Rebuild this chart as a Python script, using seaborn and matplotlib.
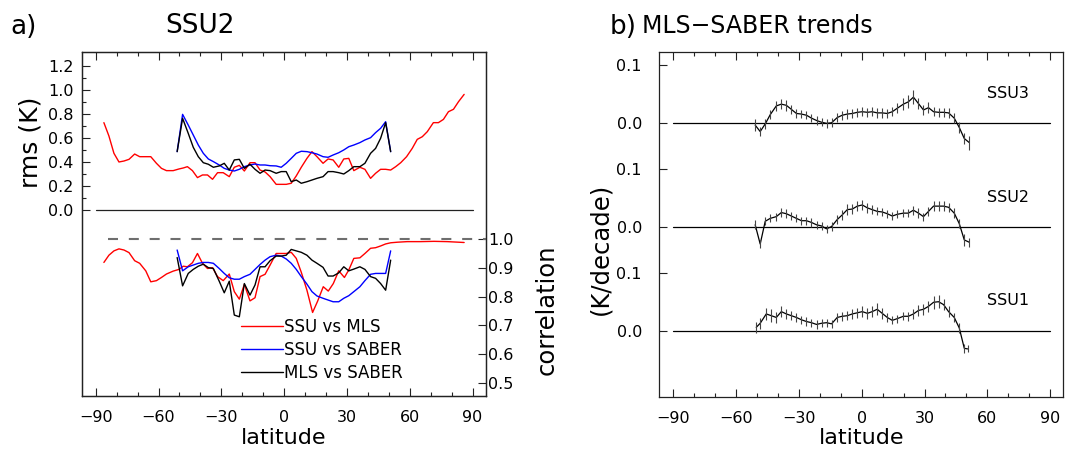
import numpy as np
import pandas as pd
import matplotlib
matplotlib.use("Agg")
import matplotlib.pyplot as plt
from matplotlib.ticker import FixedLocator
import seaborn as sns

# ---------------- data ----------------
# rms (K), SSU vs MLS
rms_mls_lat = [-86.1, -83.7, -81.3, -78.9, -76.5, -74.1, -71.4, -69.0, -66.1, -63.7, -61.0, -58.6,
               -56.2, -53.0, -50.2, -48.2, -46.2, -43.8, -41.4, -39.0, -36.6, -34.2, -31.8, -29.1,
               -26.2, -23.8, -21.4, -19.0, -16.3, -13.9, -11.5, -9.1, -6.7, -3.8, -1.4, 1.0, 3.4,
               5.8, 8.2, 10.9, 13.3, 15.7, 18.6, 21.0, 23.4, 26.1, 28.5, 30.9, 33.3, 36.2, 38.6,
               41.3, 43.7, 46.1, 48.5, 50.9, 53.3, 55.7, 58.5, 61.2, 63.6, 66.0, 68.4, 71.3, 73.7,
               76.1, 78.5, 80.9, 83.3, 86.0]
rms_mls = [0.726, 0.615, 0.471, 0.399, 0.407, 0.421, 0.465, 0.443, 0.443, 0.443, 0.388, 0.346,
           0.327, 0.327, 0.341, 0.349, 0.360, 0.327, 0.269, 0.291, 0.291, 0.255, 0.310, 0.310,
           0.277, 0.355, 0.371, 0.324, 0.393, 0.393, 0.332, 0.316, 0.277, 0.213, 0.213, 0.213, 0.222,
           0.283, 0.355, 0.429, 0.485, 0.443, 0.388, 0.424, 0.416, 0.355, 0.424, 0.429, 0.327, 0.355, 0.338,
           0.263, 0.305, 0.338, 0.338, 0.332, 0.360, 0.393, 0.443, 0.512, 0.587, 0.609, 0.651, 0.726, 0.726,
           0.753, 0.817, 0.837, 0.900, 0.961]

mid_lat = [-51.1, -48.5, -45.8, -43.4, -41.0, -38.6, -36.2, -33.8, -31.0, -28.6, -26.2, -23.8,
           -21.4, -19.0, -16.3, -13.9, -11.5, -9.1, -6.7, -3.8, -1.4, 1.0, 3.4, 5.8, 8.2, 10.9,
           13.3, 15.7, 18.6, 21.0, 23.4, 26.1, 28.5, 30.9, 33.3, 36.2, 38.6, 41.3, 43.7, 46.1,
           48.5, 50.9]
# rms (K), SSU vs SABER
rms_saber = [0.485, 0.795, 0.706, 0.623, 0.540, 0.471, 0.424, 0.402, 0.374, 0.346, 0.332, 0.324,
             0.338, 0.360, 0.374, 0.382, 0.374, 0.374, 0.368, 0.366, 0.355, 0.388, 0.429, 0.471, 0.488, 0.485,
             0.476, 0.465, 0.443, 0.438, 0.457, 0.476, 0.499, 0.526, 0.540, 0.560, 0.582, 0.601, 0.643, 0.679,
             0.734, 0.485]
# rms (K), MLS vs SABER
rms_mls_saber = [0.485, 0.762, 0.637, 0.521, 0.443, 0.393, 0.380, 0.355, 0.366, 0.388, 0.332, 0.416,
                 0.421, 0.346, 0.380, 0.338, 0.305, 0.332, 0.327, 0.305, 0.319, 0.319, 0.235, 0.249, 0.222, 0.235,
                 0.249, 0.263, 0.277, 0.319, 0.319, 0.310, 0.299, 0.327, 0.360, 0.360, 0.388, 0.471, 0.512, 0.596,
                 0.726, 0.485]

# correlation, SSU vs MLS
cor_mls_lat = [-86.1, -83.7, -81.3, -78.9, -76.5, -74.1, -71.4, -69.0, -66.1, -63.7, -61.0, -58.6,
               -56.2, -53.0, -50.2, -48.2, -46.2, -43.8, -41.4, -39.0, -36.6, -34.2, -31.8, -29.1,
               -26.2, -23.8, -21.4, -19.0, -16.3, -13.9, -11.5, -9.1, -6.7, -3.8, -1.4, 1.0, 3.4,
               5.8, 8.2, 10.9, 13.6, 16.0, 18.7, 21.1, 23.5, 26.1, 28.8, 30.9, 33.3, 36.2, 38.6,
               41.3, 43.7, 46.1, 48.5, 50.9, 54.1, 58.8, 65.2, 71.6, 78.0, 86.0]
cor_mls = [0.918, 0.943, 0.958, 0.965, 0.961, 0.952, 0.924, 0.915, 0.889, 0.851, 0.855, 0.866,
           0.878, 0.888, 0.894, 0.905, 0.903, 0.917, 0.949, 0.915, 0.897, 0.900, 0.869, 0.855,
           0.878, 0.817, 0.791, 0.842, 0.785, 0.796, 0.869, 0.877, 0.909, 0.949, 0.949, 0.949, 0.953,
           0.932, 0.884, 0.822, 0.745, 0.784, 0.834, 0.819, 0.845, 0.889, 0.866, 0.892, 0.932, 0.934, 0.949,
           0.967, 0.969, 0.975, 0.982, 0.986, 0.988, 0.990, 0.990, 0.991, 0.990, 0.987]
# correlation, SSU vs SABER
cor_saber = [0.961, 0.889, 0.903, 0.909, 0.915, 0.918, 0.918, 0.915, 0.897, 0.880, 0.865, 0.860,
             0.860, 0.869, 0.877, 0.894, 0.911, 0.926, 0.938, 0.943, 0.940, 0.930, 0.915, 0.894, 0.869, 0.843,
             0.817, 0.802, 0.794, 0.788, 0.782, 0.782, 0.794, 0.803, 0.817, 0.834, 0.855, 0.877, 0.880, 0.880,
             0.880, 0.958]
# correlation, MLS vs SABER
cor_mls_saber = [0.935, 0.837, 0.880, 0.894, 0.905, 0.912, 0.900, 0.897, 0.853, 0.813, 0.853, 0.736,
                 0.730, 0.845, 0.805, 0.840, 0.903, 0.903, 0.924, 0.940, 0.940, 0.943, 0.963, 0.958, 0.953, 0.943,
                 0.926, 0.915, 0.901, 0.871, 0.871, 0.882, 0.903, 0.889, 0.895, 0.903, 0.894, 0.869, 0.863, 0.845,
                 0.822, 0.926]

# MLS-SABER trends (K/decade)
tr_lat = [-50.9, -48.5, -46.1, -43.7, -40.8, -38.4, -36.0, -33.6, -31.2, -28.8, -26.4, -24.0,
          -21.6, -19.2, -16.8, -14.4, -11.7, -9.3, -6.9, -4.5, -2.1, 0.3, 2.7, 5.0, 7.4, 9.8,
          12.2, 14.6, 17.0, 19.9, 22.3, 24.7, 27.1, 29.5, 31.9, 34.3, 36.7, 39.1, 41.5, 44.2,
          46.6, 49.0, 51.4]
ssu3 = [-0.003, -0.014, -0.001, 0.015, 0.030, 0.033, 0.031, 0.024, 0.017, 0.016, 0.014, 0.009,
        0.005, 0.002, 0.000, 0.001, 0.010, 0.014, 0.016, 0.017, 0.019, 0.020, 0.019, 0.020, 0.018, 0.018,
        0.017, 0.020, 0.026, 0.033, 0.037, 0.045, 0.034, 0.023, 0.027, 0.020, 0.019, 0.019, 0.018, 0.009,
        -0.007, -0.026, -0.033]
ssu3_err = [0.010, 0.008, 0.008, 0.008, 0.009, 0.009, 0.009, 0.008, 0.008, 0.007, 0.007, 0.007,
            0.007, 0.007, 0.008, 0.008, 0.008, 0.008, 0.008, 0.008, 0.008, 0.008, 0.008, 0.008, 0.008, 0.008,
            0.008, 0.008, 0.009, 0.010, 0.011, 0.012, 0.010, 0.009, 0.009, 0.008, 0.008, 0.008, 0.008, 0.008,
            0.009, 0.010, 0.012]
ssu2 = [0.004, -0.029, 0.010, 0.015, 0.018, 0.025, 0.023, 0.019, 0.015, 0.011, 0.011, 0.008,
        0.004, 0.002, -0.003, 0.001, 0.013, 0.021, 0.030, 0.031, 0.036, 0.038, 0.033, 0.030, 0.027, 0.026,
        0.023, 0.019, 0.022, 0.024, 0.024, 0.029, 0.024, 0.018, 0.027, 0.036, 0.036, 0.036, 0.034, 0.024,
        0.006, -0.022, -0.026]
ssu2_err = [0.008, 0.007, 0.007, 0.007, 0.007, 0.008, 0.008, 0.007, 0.007, 0.007, 0.007, 0.007,
            0.007, 0.007, 0.007, 0.007, 0.008, 0.008, 0.009, 0.009, 0.009, 0.009, 0.008, 0.008, 0.007, 0.007,
            0.007, 0.007, 0.007, 0.007, 0.007, 0.008, 0.008, 0.007, 0.008, 0.009, 0.009, 0.009, 0.008, 0.008,
            0.008, 0.010, 0.008]
ssu1_lat = [-50.4, -48.5, -45.6, -43.2, -40.8, -38.4, -36.0, -33.6, -31.2, -28.8, -26.4, -24.0,
            -21.6, -19.2, -16.8, -14.4, -11.7, -9.3, -6.9, -4.5, -2.1, 0.3, 2.7, 5.0, 7.4, 9.8,
            12.2, 14.6, 17.0, 19.9, 22.3, 24.7, 27.1, 29.5, 31.9, 34.3, 36.7, 39.1, 41.5, 44.2,
            46.6, 49.0, 50.6]
ssu1 = [0.006, 0.013, 0.029, 0.026, 0.023, 0.033, 0.029, 0.026, 0.023, 0.019, 0.016, 0.014,
        0.011, 0.013, 0.014, 0.012, 0.023, 0.025, 0.026, 0.029, 0.031, 0.033, 0.030, 0.033, 0.037, 0.030,
        0.023, 0.018, 0.021, 0.025, 0.025, 0.029, 0.035, 0.037, 0.042, 0.049, 0.050, 0.045, 0.033, 0.023,
        0.005, -0.030, -0.031]
ssu1_err = [0.009, 0.009, 0.010, 0.011, 0.010, 0.010, 0.009, 0.008, 0.008, 0.007, 0.007, 0.007,
            0.007, 0.007, 0.007, 0.007, 0.008, 0.008, 0.008, 0.009, 0.009, 0.009, 0.009, 0.009, 0.010, 0.009,
            0.008, 0.007, 0.007, 0.007, 0.008, 0.008, 0.009, 0.009, 0.010, 0.011, 0.011, 0.010, 0.009, 0.008,
            0.008, 0.008, 0.006]

xticks = [-90, -60, -30, 0, 30, 60, 90]
xminor = [-80, -70, -50, -40, -20, -10, 10, 20, 40, 50, 70, 80]
rms_ticks = [0.0, 0.2, 0.4, 0.6, 0.8, 1.0, 1.2]
rms_minor = [0.1, 0.3, 0.5, 0.7, 0.9, 1.1]
cor_ticks = [0.5, 0.6, 0.7, 0.8, 0.9, 1.0]
trend_names = ["SSU1", "SSU2", "SSU3"]

# ---------------- style ----------------
sns.set_theme(style="ticks")
plt.rcParams["font.family"] = ["DejaVu Sans"]
plt.rcParams["axes.unicode_minus"] = True
plt.rcParams["text.color"] = "black"
plt.rcParams["axes.labelcolor"] = "black"
SPINE = "#222222"
TICK_FS = 11.5
LAB_FS = 17.5

fig = plt.figure(figsize=(10.68, 4.53), dpi=100)
fig.patch.set_facecolor("white")

XL = (-96.7, 96.3)


def style_x(ax):
    ax.set_xlim(*XL)
    ax.xaxis.set_major_locator(FixedLocator(xticks))
    ax.xaxis.set_minor_locator(FixedLocator(xminor))
    ax.set_xticklabels([str(v) if v >= 0 else "\u2212" + str(-v) for v in xticks])
    ax.tick_params(axis="x", which="both", direction="in", top=True, bottom=True,
                   colors=SPINE, labelcolor="black", labelsize=TICK_FS, pad=10)
    ax.tick_params(axis="x", which="major", length=5.5, width=0.8)
    ax.tick_params(axis="x", which="minor", length=3, width=0.8)
    ax.set_xlabel("latitude", fontsize=16, labelpad=2, color="black")
    for s in ax.spines.values():
        s.set_color(SPINE)
        s.set_linewidth(0.9)
        s.set_visible(True)


# ---------------- panel a ----------------
ax1 = fig.add_axes([81.7 / 1068, 57 / 453, 404 / 1068, 344.3 / 453])
ax2 = ax1.twinx()
style_x(ax1)
ax1.set_ylim(-1.547, 1.316)
ax2.set_ylim(0.456, 1.647)

df_rms = pd.DataFrame({"lat": rms_mls_lat, "v": rms_mls})
df_mid = pd.DataFrame({"lat": mid_lat, "s": rms_saber, "ms": rms_mls_saber,
                       "cs": cor_saber, "cms": cor_mls_saber})
df_cor = pd.DataFrame({"lat": cor_mls_lat, "v": cor_mls})

ax1.plot([-90, 90], [0, 0], color=SPINE, lw=0.9)
sns.lineplot(data=df_rms, x="lat", y="v", ax=ax1, color="red", lw=1.0, sort=False, estimator=None)
sns.lineplot(data=df_mid, x="lat", y="s", ax=ax1, color="blue", lw=1.0, sort=False, estimator=None)
sns.lineplot(data=df_mid, x="lat", y="ms", ax=ax1, color="black", lw=1.0, sort=False, estimator=None)

ax2.plot([-84, 96.3], [1.0, 1.0], color="#6e6e6e", lw=1.5, ls=(0, (4.8, 5.2)))
sns.lineplot(data=df_cor, x="lat", y="v", ax=ax2, color="red", lw=1.0, sort=False,
             estimator=None, label="SSU vs MLS")
sns.lineplot(data=df_mid, x="lat", y="cs", ax=ax2, color="blue", lw=1.0, sort=False,
             estimator=None, label="SSU vs SABER")
sns.lineplot(data=df_mid, x="lat", y="cms", ax=ax2, color="black", lw=1.0, sort=False,
             estimator=None, label="MLS vs SABER")
ax2.set_xlim(*XL)

ax1.yaxis.set_major_locator(FixedLocator(rms_ticks))
ax1.yaxis.set_minor_locator(FixedLocator(rms_minor))
ax1.set_yticklabels([f"{v:.1f}" for v in rms_ticks])
ax1.tick_params(axis="y", which="both", direction="in", left=True, right=False,
                colors=SPINE, labelcolor="black", labelsize=TICK_FS, pad=6)
ax1.tick_params(axis="y", which="major", length=5.5, width=0.8)
ax1.tick_params(axis="y", which="minor", length=3, width=0.8)
ax1.set_ylabel("rms (K)", fontsize=18)
ax1.yaxis.set_label_coords(-0.098, 0.738)

ax2.yaxis.set_major_locator(FixedLocator(cor_ticks))
ax2.set_yticklabels([f"{v:.1f}" for v in cor_ticks])
ax2.tick_params(axis="y", which="major", direction="in", right=True, left=False,
                colors=SPINE, labelcolor="black", labelsize=TICK_FS, pad=2, length=5.5, width=0.8)
ax2.set_ylabel("correlation", fontsize=LAB_FS, rotation=90)
ax2.yaxis.set_label_coords(1.12, 0.25)
ax2.set_xlabel("")
for s in ax2.spines.values():
    s.set_color(SPINE)
    s.set_linewidth(0.9)
leg = ax2.legend(loc="upper left", bbox_to_anchor=(0.395, 0.226), frameon=False, fontsize=12,
                 handlelength=2.5, handletextpad=0.05, labelspacing=0.3, borderpad=0, borderaxespad=0)
for t in leg.get_texts():
    t.set_color("black")

# ---------------- panel b ----------------
ax3 = fig.add_axes([659.3 / 1068, 56.3 / 453, 404 / 1068, 345 / 453])
style_x(ax3)
step = 0.178
ax3.set_ylim(-0.113, 0.479)
series = [(ssu1_lat, ssu1, ssu1_err), (tr_lat, ssu2, ssu2_err), (tr_lat, ssu3, ssu3_err)]
for k, (la, vals, err) in enumerate(series):
    off = k * step
    ax3.plot([-90, 90], [off, off], color="black", lw=0.9)
    y = np.asarray(vals) + off
    sns.lineplot(x=la, y=y, ax=ax3, color="black", lw=0.9, sort=False, estimator=None)
    ax3.errorbar(la, y, yerr=err, fmt="none", ecolor="#444444", elinewidth=0.8, capsize=0)
    ax3.text(69.7, off + 0.0515, trend_names[k], fontsize=TICK_FS, ha="center", va="center")

yt = []
yl = []
for k in range(3):
    yt += [k * step, k * step + 0.1]
    yl += ["0.0", "0.1"]
ax3.yaxis.set_major_locator(FixedLocator(yt))
ax3.set_yticklabels(yl)
ax3.tick_params(axis="y", which="major", direction="in", left=True, right=False,
                colors=SPINE, labelcolor="black", labelsize=TICK_FS, pad=12.5, length=5.5, width=0.8)
ax3.set_ylabel("(K/decade)", fontsize=17.5)
ax3.yaxis.set_label_coords(-0.115, 0.428)

# titles
fig.text(10 / 1068, 1 - 34 / 453, "a)", fontsize=19, ha="left", va="baseline")
fig.text(200 / 1068, 1 - 33 / 453, "SSU2", fontsize=19, ha="center", va="baseline")
fig.text(610 / 1068, 1 - 34 / 453, "b)", fontsize=19, ha="left", va="baseline")
fig.text(757 / 1068, 1 - 33 / 453, "MLS\u2212SABER trends", fontsize=17, ha="center", va="baseline")

fig.savefig("out.png", dpi=100, facecolor="white")
